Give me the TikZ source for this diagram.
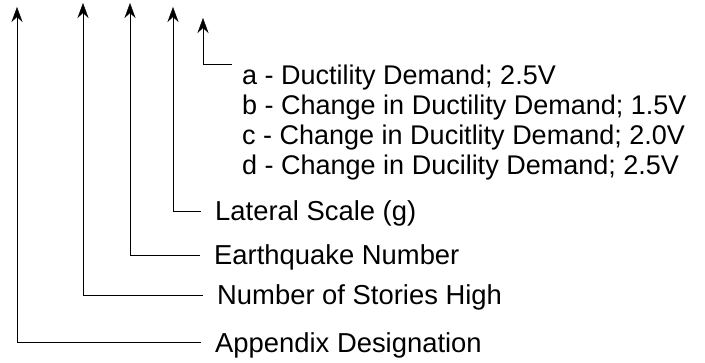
\documentclass[tikz,border=0pt]{standalone}
\usepackage{fontspec}
\setmainfont{Liberation Sans}
\usepackage{tikz}
\usetikzlibrary{
        arrows.meta,
        positioning
    }
\tikzset{>={Stealth[length=15pt,width=11pt,inset=5pt]},line width=1.2pt}
\tikzset{lbl/.style={anchor=west,inner xsep=14pt,inner ysep=0pt,
        text height=20pt,text depth=0pt,font=\fontsize{27.4}{32}\selectfont}}

\begin{document}
\begin{tikzpicture}[x=1pt,y=1pt]
                \useasboundingbox (0,0) rectangle (705,362);
                \tikzset{item/.style={lbl,inner xsep=10pt,font=\fontsize{27}{32}\selectfont}}
                % where the arrows point
                \coordinate (appTip) at (17,355);
                \coordinate (stoTip) at (83,359);
                \coordinate (eqnTip) at (130,359);
                \coordinate (latTip) at (173,355);
                \coordinate (demTip) at (203,344);
                % labels
                \node[lbl] (app) at (201,20)  {Appendix Designation};
                \node[lbl] (sto) at (203,67)  {Number of Stories High};
                \node[lbl] (eqn) at (200,107) {Earthquake Number};
                \node[lbl] (lat) at (201,151) {Lateral Scale (g)};
                \node[item,anchor=north west] (dema) at (232,298) {a - Ductility Demand; 2.5V};
                \node[item,below right=9.7pt and 0pt of dema.south west] (demb) {b - Change in Ductility Demand; 1.5V};
                \node[item,below right=9.7pt and 0pt of demb.south west] (demc) {c - Change in Ducitlity Demand; 2.0V};
                \node[item,below right=9.7pt and 0pt of demc.south west] (demd) {d - Change in Ducility Demand; 2.5V};
                \path[->]
                    (app.west) edge[to path={-| (\tikztotarget)}] (appTip)
                    (sto.west) edge[to path={-| (\tikztotarget)}] (stoTip)
                    (eqn.west) edge[to path={-| (\tikztotarget)}] (eqnTip)
                    (lat.west) edge[to path={-| (\tikztotarget)}] (latTip)
                    (dema.north west) edge[to path={-| (\tikztotarget)}] (demTip)
                ;
            \end{tikzpicture}
\end{document}
